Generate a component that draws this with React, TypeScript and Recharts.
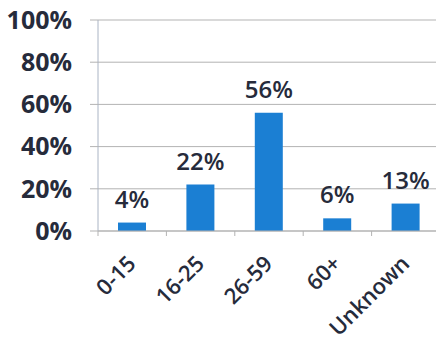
import { Bar, BarChart, CartesianGrid, LabelList, XAxis, YAxis } from "recharts";

const AGE_GROUPS = ["0-15", "16-25", "26-59", "60+", "Unknown"];
const SHARE = [4, 22, 56, 6, 13];
const Y_TICKS = [0, 20, 40, 60, 80, 100];

const data = AGE_GROUPS.map((group, i) => ({ group, share: SHARE[i] }));

const FONT = "'Open Sans', sans-serif";
const INK = "#262b3b";
const BAR_BLUE = "#1b7fd3";
const GRID = "#b3b3b3";

const CHART_W = 440;
const Y_AXIS_W = 98;
// width of one category slot, used to put the x-axis tick marks between bars
const BAND = (CHART_W - Y_AXIS_W) / AGE_GROUPS.length;

function AgeTick(props: any) {
  const { x, y, payload } = props;
  return (
    <g>
      <line x1={x - BAND / 2} x2={x - BAND / 2} y1={y - 8} y2={y - 3} stroke={GRID} />
      <text
        transform={`translate(${x + 5},${y + 26}) rotate(-45)`}
        textAnchor="end"
        fontFamily={FONT}
        fontSize={22}
        fontWeight={600}
        fill={INK}
      >
        {payload.value}
      </text>
    </g>
  );
}

export default function App() {
  return (
    <div style={{ position: "absolute", left: 0, top: 0, width: 436, height: 344, overflow: "hidden", background: "#fff" }}>
      <BarChart
        width={CHART_W}
        height={344}
        data={data}
        margin={{ top: 20, right: 0, bottom: 0, left: 0 }}
      >
        <CartesianGrid vertical={false} stroke={GRID} />
        <XAxis
          dataKey="group"
          height={113}
          axisLine={{ stroke: GRID }}
          tickLine={false}
          tick={<AgeTick />}
          interval={0}
        />
        <YAxis
          width={Y_AXIS_W}
          domain={[0, 100]}
          ticks={Y_TICKS}
          tickFormatter={(v: number) => `${v}%`}
          axisLine={{ stroke: "#aab4c4" }}
          tickLine={{ stroke: GRID }}
          tickSize={8}
          tickMargin={18}
          tick={{ fontFamily: FONT, fontSize: 25, fontWeight: 700, fill: INK }}
        />
        <Bar dataKey="share" fill={BAR_BLUE} barSize={28} isAnimationActive={false}>
          <LabelList
            dataKey="share"
            position="top"
            offset={15}
            formatter={(v: any) => `${v}%`}
            style={{ fontFamily: FONT, fontSize: 24, fontWeight: 600, fill: INK }}
          />
        </Bar>
      </BarChart>
    </div>
  );
}
